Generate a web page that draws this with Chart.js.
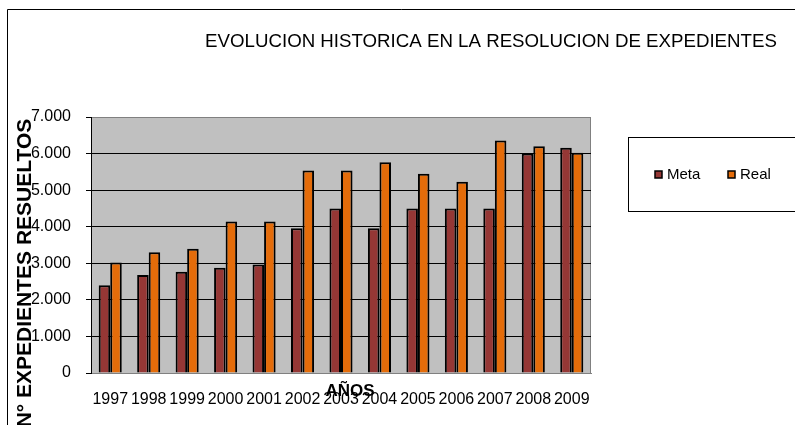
<!DOCTYPE html>
<html>
<head>
<meta charset="utf-8">
<title>Evolucion historica</title>
<script src="https://cdn.jsdelivr.net/npm/chart.js@4/dist/chart.umd.min.js"></script>
<style>
  html, body { margin: 0; padding: 0; background: #fff; }
  #wrap { width: 795px; height: 425px; position: relative; }
</style>
</head>
<body>
<div id="wrap"><canvas id="chart"></canvas></div>
<script>
// Data
const YEARS = ['1997', '1998', '1999', '2000', '2001', '2002', '2003', '2004', '2005', '2006', '2007', '2008', '2009'];
const META = [2400, 2680, 2770, 2880, 2970, 3960, 4500, 3960, 4500, 4500, 4500, 6000, 6160];
const REAL = [3020, 3300, 3400, 4140, 4140, 5540, 5540, 5760, 5450, 5230, 6360, 6200, 6020];
const Y_TICKS = [0, 1000, 2000, 3000, 4000, 5000, 6000, 7000];

const TITLE = 'EVOLUCION HISTORICA EN LA RESOLUCION DE EXPEDIENTES';
const Y_TITLE = 'N° EXPEDIENTES RESUELTOS';
const X_TITLE = 'AÑOS';

const FONT = "'Liberation Sans', Arial, sans-serif";
const COLORS = { meta: '#953735', real: '#E46C0A' };

// thousands with a dot, like the spanish original
function fmt(v) {
    return String(v).replace(/\B(?=(\d{3})+(?!\d))/g, '.');
}

// Background, plot frame, title, legend box and axis titles
const decor = {
    id: 'decor',
    beforeDraw(chart) {
        const { ctx, chartArea: a } = chart;
        ctx.save();
        ctx.fillStyle = '#fff';
        ctx.fillRect(0, 0, chart.width, chart.height);
        // outer frame (only top and left are visible)
        ctx.strokeStyle = '#000';
        ctx.lineWidth = 1;
        ctx.beginPath();
        ctx.moveTo(7.5, chart.height);
        ctx.lineTo(7.5, 9.5);
        ctx.lineTo(chart.width, 9.5);
        ctx.stroke();
        // plot area
        ctx.fillStyle = '#C0C0C0';
        ctx.fillRect(a.left, a.top, a.right - a.left, a.bottom - a.top);
        ctx.strokeStyle = '#808080';
        ctx.strokeRect(a.left + 0.5, a.top + 0.5, a.right - a.left - 1, a.bottom - a.top);
        ctx.restore();
    },
    afterDraw(chart) {
        const { ctx } = chart;
        ctx.save();
        ctx.fillStyle = '#000';
        ctx.textBaseline = 'middle';

        // title
        ctx.font = '18.7px ' + FONT;
        ctx.textAlign = 'center';
        ctx.fillText(TITLE, 491, 42);

        // x axis title
        ctx.font = 'bold 17px ' + FONT;
        ctx.fillText(X_TITLE, 350, 391);

        // y axis title
        ctx.save();
        ctx.translate(25, 273);
        ctx.rotate(-Math.PI / 2);
        ctx.font = 'bold 21px ' + FONT;
        ctx.fillText(Y_TITLE, 0, 0);
        ctx.restore();

        // legend box
        ctx.strokeStyle = '#000';
        ctx.lineWidth = 1;
        ctx.strokeRect(628.5, 137.5, 180, 74);
        const items = chart.data.datasets.map(d => ({ label: d.label, color: d.backgroundColor }));
        const xs = [655, 728];
        ctx.font = '15px ' + FONT;
        ctx.textAlign = 'left';
        items.forEach((it, i) => {
            ctx.fillStyle = it.color;
            ctx.fillRect(xs[i], 171, 7, 7);
            ctx.strokeStyle = '#000';
            ctx.lineWidth = 1.5;
            ctx.strokeRect(xs[i], 171, 7, 7);
            ctx.fillStyle = '#000';
            ctx.fillText(it.label, xs[i] + 12, 175);
        });
        ctx.restore();
    }
};

new Chart(document.getElementById('chart'), {
    type: 'bar',
    data: {
        labels: YEARS,
        datasets: [
            {
                label: 'Meta',
                data: META,
                backgroundColor: COLORS.meta,
                borderColor: '#000',
                borderWidth: 2
            },
            {
                label: 'Real',
                data: REAL,
                backgroundColor: COLORS.real,
                borderColor: '#000',
                borderWidth: 2
            }
        ]
    },
    options: {
        responsive: true,
        maintainAspectRatio: false,
        animation: false,
        devicePixelRatio: 1,
        layout: { padding: { top: 117, right: 204, left: 0, bottom: 0 } },
        datasets: {
            bar: { categoryPercentage: 0.6, barPercentage: 1.0 }
        },
        plugins: {
            legend: { display: false },
            title: { display: false },
            tooltip: { enabled: false }
        },
        scales: {
            x: {
                grid: { display: true, drawOnChartArea: false, tickLength: 0, color: 'transparent' },
                border: { display: true, color: '#808080', width: 1 },
                ticks: {
                    color: '#000',
                    padding: 17,
                    maxRotation: 0,
                    autoSkip: false,
                    font: { family: FONT, size: 16 }
                },
                afterFit(scale) { scale.height = 52; }
            },
            y: {
                min: 0,
                max: 7000,
                afterBuildTicks(scale) {
                    scale.ticks = Y_TICKS.map(v => ({ value: v }));
                },
                grid: {
                    color: ctx => (ctx.tick && (ctx.tick.value === 0 || ctx.tick.value === 7000)) ? '#808080' : '#000',
                    tickColor: '#000',
                    tickLength: 5,
                    lineWidth: 1
                },
                border: { display: true, color: '#000', width: 1 },
                ticks: {
                    color: '#000',
                    padding: 15,
                    font: { family: FONT, size: 16 },
                    callback: v => fmt(v)
                },
                afterFit(scale) { scale.width = 91; }
            }
        }
    },
    plugins: [decor]
});
</script>
</body>
</html>
